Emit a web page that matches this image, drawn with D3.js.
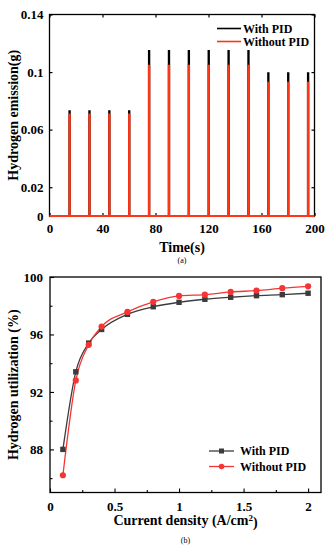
<!DOCTYPE html>
<html><head><meta charset="utf-8">
<script src="https://cdn.jsdelivr.net/npm/d3@7"></script>
<style>
body{margin:0;background:#fff;}
text{font-family:"Liberation Serif","Times New Roman",serif;font-weight:bold;fill:#000;}
</style></head>
<body><svg id="c" width="331" height="550"></svg>
<script>
// ---- Data (a) ----
const spikeTimes = [15,30,45,60,75,90,105,120,135,150,165,180,195];
const emissionWithPID = [0.0728,0.0728,0.0728,0.0728,0.1146,0.1146,0.1146,0.1146,0.1146,0.1146,0.0993,0.0993,0.0993];
const emissionWithoutPID = [0.0705,0.0705,0.0705,0.0705,0.1044,0.1044,0.1044,0.1044,0.1044,0.1044,0.0926,0.0926,0.0926];
const timeTicks = [0,40,80,120,160,200];
const emissionTicks = [0,0.02,0.06,0.1,0.14];
// ---- Data (b) ----
const currentDensity = [0.1,0.2,0.3,0.4,0.6,0.8,1.0,1.2,1.4,1.6,1.8,2.0];
const utilWithPID = [88.0,93.4,95.4,96.35,97.4,97.93,98.24,98.45,98.59,98.7,98.77,98.87];
const utilWithoutPID = [86.2,92.8,95.28,96.55,97.57,98.27,98.68,98.77,98.96,99.05,99.22,99.35];
const densityTicks = [0,0.5,1,1.5,2];
const utilTicks = [88,92,96,100];

const svg = d3.select("#c");
const BLACK = "#000", RED_A = "#ff3514", GRAY_B = "#3c3c3c", RED_B = "#f53535";
const FONT = "Liberation Serif";

// ================= Chart (a) =================
{
  const L=49.5, R=314.5, T=14.5, B=216;
  const x = d3.scaleLinear().domain([0,200]).range([L,R]);
  const y = d3.scaleLinear().domain([0,0.14]).range([B,T]);
  const g = svg.append("g");
  const pulseW = 0.35;
  function pulses(vals){
    const pts=[[0,0]];
    spikeTimes.forEach((t,i)=>{pts.push([t,0],[t,vals[i]],[t+pulseW,vals[i]],[t+pulseW,0]);});
    pts.push([200,0]);
    return pts;
  }
  const line = d3.line().x(d=>x(d[0])).y(d=>y(d[1]));
  g.append("rect").attr("x",L).attr("y",T).attr("width",R-L).attr("height",B-T)
    .attr("fill","none").attr("stroke","#000").attr("stroke-width",1.3);
  const axB = g.append("g").attr("transform",`translate(0,${B})`).call(d3.axisBottom(x).tickValues(timeTicks).tickSize(-3).tickFormat(d3.format("d")));
  axB.select(".domain").remove();
  axB.selectAll("text").attr("dy","0.95em").attr("y",5).style("font-size","13px").style("font-family",FONT).style("font-weight","bold");
  const axT = g.append("g").attr("transform",`translate(0,${T})`).call(d3.axisTop(x).tickValues(timeTicks).tickSize(-3).tickFormat(""));
  axT.select(".domain").remove();
  const axL = g.append("g").attr("transform",`translate(${L},0)`).call(d3.axisLeft(y).tickValues(emissionTicks).tickSize(-3).tickFormat(d=>d===0?"0":String(+d.toFixed(2))));
  axL.select(".domain").remove();
  axL.selectAll("text").attr("x",-6).style("font-size","13px").style("font-family",FONT).style("font-weight","bold");
  const axR = g.append("g").attr("transform",`translate(${R},0)`).call(d3.axisRight(y).tickValues(emissionTicks).tickSize(-3).tickFormat(""));
  axR.select(".domain").remove();
  g.selectAll(".tick line").attr("stroke","#000").attr("stroke-width",1.2);
  g.append("path").attr("d",line(pulses(emissionWithPID))).attr("fill","none").attr("stroke",BLACK).attr("stroke-width",1.9);
  g.append("path").attr("d",line(pulses(emissionWithoutPID))).attr("fill","none").attr("stroke",RED_A).attr("stroke-width",1.9);
  [["With PID",BLACK,28.5],["Without PID",RED_A,41.5]].forEach(([t,c,yy])=>{
    g.append("line").attr("x1",217).attr("x2",241).attr("y1",yy).attr("y2",yy).attr("stroke",c).attr("stroke-width",1.6);
    g.append("text").attr("x",243).attr("y",yy).attr("dy","0.35em").style("font-size","12px").text(t);
  });
  g.append("text").attr("transform",`translate(13,${(T+B)/2}) rotate(-90)`).attr("text-anchor","middle").attr("dy","0.35em").style("font-size","14px").text("Hydrogen emission(g)");
  g.append("text").attr("x",(L+R)/2).attr("y",247).attr("text-anchor","middle").attr("dy","0.35em").style("font-size","14px").text("Time(s)");
  g.append("text").attr("x",(L+R)/2).attr("y",260.5).attr("text-anchor","middle").attr("dy","0.35em").style("font-size","8px").style("font-weight","normal").text("(a)");
}

// ================= Chart (b) =================
{
  const L=50, R=321, T=277, B=492.5;
  const x = d3.scaleLinear().domain([0,2.1]).range([L,R]);
  const y = d3.scaleLinear().domain([85,100]).range([B,T]);
  const g = svg.append("g");
  g.append("rect").attr("x",L).attr("y",T).attr("width",R-L).attr("height",B-T)
    .attr("fill","none").attr("stroke","#000").attr("stroke-width",1.3);
  const minorX = d3.range(0.25,2.1,0.5);
  const minorY = [86,90,94,98];
  const axB = g.append("g").attr("transform",`translate(0,${B})`).call(d3.axisBottom(x).tickValues(densityTicks).tickSize(-4).tickFormat(d=>String(d)));
  axB.select(".domain").remove();
  axB.selectAll("text").attr("y",6).attr("dy","0.95em").style("font-size","13px").style("font-family",FONT).style("font-weight","bold");
  const axBm = g.append("g").attr("transform",`translate(0,${B})`).call(d3.axisBottom(x).tickValues(minorX).tickSize(-2.5).tickFormat(""));
  axBm.select(".domain").remove();
  const axL = g.append("g").attr("transform",`translate(${L},0)`).call(d3.axisLeft(y).tickValues(utilTicks).tickSize(-4));
  axL.select(".domain").remove();
  axL.selectAll("text").attr("x",-7).style("font-size","13px").style("font-family",FONT).style("font-weight","bold");
  const axLm = g.append("g").attr("transform",`translate(${L},0)`).call(d3.axisLeft(y).tickValues(minorY).tickSize(-2.5).tickFormat(""));
  axLm.select(".domain").remove();
  g.selectAll(".tick line").attr("stroke","#000").attr("stroke-width",1.1);

  const line = d3.line().x(d=>x(d[0])).y(d=>y(d[1])).curve(d3.curveMonotoneX);
  const s1 = currentDensity.map((c,i)=>[c,utilWithPID[i]]);
  const s2 = currentDensity.map((c,i)=>[c,utilWithoutPID[i]]);
  g.append("path").attr("d",line(s1)).attr("fill","none").attr("stroke",GRAY_B).attr("stroke-width",1.3);
  g.append("path").attr("d",line(s2)).attr("fill","none").attr("stroke",RED_B).attr("stroke-width",1.3);
  g.selectAll(".sq").data(s1).enter().append("rect")
    .attr("x",d=>x(d[0])-2.7).attr("y",d=>y(d[1])-2.7).attr("width",5.4).attr("height",5.4).attr("fill",GRAY_B);
  g.selectAll(".ci").data(s2).enter().append("circle")
    .attr("cx",d=>x(d[0])).attr("cy",d=>y(d[1])).attr("r",3.1).attr("fill",RED_B);
  [["With PID",GRAY_B,451,"sq"],["Without PID",RED_B,466.5,"ci"]].forEach(([t,c,yy,m])=>{
    g.append("line").attr("x1",209).attr("x2",234).attr("y1",yy).attr("y2",yy).attr("stroke",c).attr("stroke-width",1.3);
    if(m==="sq") g.append("rect").attr("x",221.5-2.5).attr("y",yy-2.5).attr("width",5).attr("height",5).attr("fill",c);
    else g.append("circle").attr("cx",221.5).attr("cy",yy).attr("r",2.8).attr("fill",c);
    g.append("text").attr("x",240).attr("y",yy).attr("dy","0.35em").style("font-size","12px").text(t);
  });
  g.append("text").attr("transform",`translate(13,${(T+B)/2}) rotate(-90)`).attr("text-anchor","middle").attr("dy","0.35em").style("font-size","14px").text("Hydrogen utilization (%)");
  const xt = g.append("text").attr("x",(L+R)/2).attr("y",520).attr("text-anchor","middle").attr("dy","0.35em").style("font-size","14px");
  xt.append("tspan").text("Current density (A/cm");
  xt.append("tspan").attr("dy","-0.45em").style("font-size","9px").text("2");
  xt.append("tspan").attr("dy","0.45em").text(")");
  g.append("text").attr("x",(L+R)/2).attr("y",540).attr("text-anchor","middle").attr("dy","0.35em").style("font-size","8px").style("font-weight","normal").text("(b)");
}
</script></body></html>
